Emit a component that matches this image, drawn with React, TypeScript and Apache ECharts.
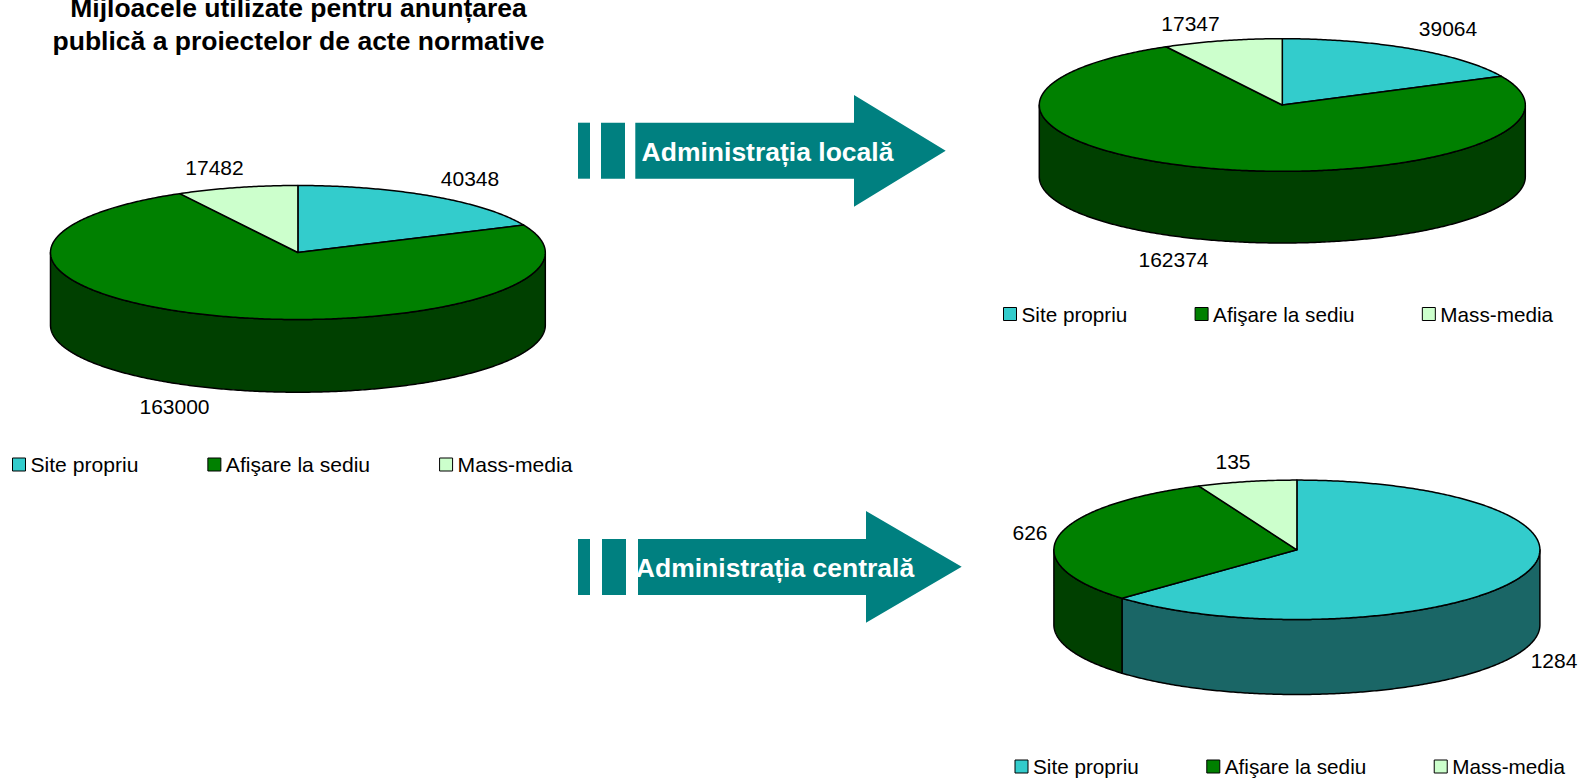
import React, { useEffect, useRef } from "react";
import * as echarts from "echarts";

const categories = ["Site propriu", "Afişare la sediu", "Mass-media"];
const totalValues = [40348, 163000, 17482];
const localValues = [39064, 162374, 17347];
const centralValues = [1284, 626, 135];
const allPies = [totalValues, localValues, centralValues];

const titleText = "Mijloacele utilizate pentru anunțarea\npublică a proiectelor de acte normative";
const arrowTexts = ["Administrația locală", "Administrația centrală"];

const topColors = ["#33CCCC", "#008000", "#CCFFCC"];
const wallColors = ["#1A6666", "#004000", "#668066"];
const FONT = '"Liberation Sans", Arial, sans-serif';
const TEAL = "#008080";

const geometry = [
  { cx: 297.9, cy: 252.5, rx: 247.4, ry: 67, depth: 72.7 },
  { cx: 1282.3, cy: 105, rx: 243, ry: 66.3, depth: 71.7 },
  { cx: 1296.9, cy: 549.8, rx: 243, ry: 69.7, depth: 75 },
];
const labelSpots = [
  [[470, 178], [174.5, 406], [214.5, 167.5]],
  [[1448, 28.5], [1173.5, 259.5], [1190.5, 23]],
  [[1554, 660], [1030, 532], [1233, 461.5]],
];
const legendSpots = [
  { left: 12, top: 454, gap: 69, size: 21.1 },
  { left: 1003, top: 303.5, gap: 67.3, size: 20.7 },
  { left: 1014.5, top: 756, gap: 67.5, size: 20.7 },
];
const arrowSpots = [
  { bars: [[578, 12], [601, 24]], y0: 122.7, y1: 178.7, bodyX: 635.3, neckX: 854, tipX: 945.7, top: 95, bottom: 206.7, textX: 767.5, textY: 152 },
  { bars: [[578, 12], [602, 24]], y0: 539, y1: 595, bodyX: 638, neckX: 866, tipX: 961.7, top: 511, bottom: 622.7, textX: 775, textY: 567.5 },
];

function sliceAngles(pieIdx: number, sliceIdx: number) {
  const vals = allPies[pieIdx];
  const total = vals.reduce((a, b) => a + b, 0);
  const before = vals.slice(0, sliceIdx).reduce((a, b) => a + b, 0);
  const a0 = (before / total) * Math.PI * 2;
  const a1 = ((before + vals[sliceIdx]) / total) * Math.PI * 2;
  return [a0, a1];
}

function ellipsePoint(g: any, a: number, dy = 0) {
  return [g.cx + g.rx * Math.sin(a), g.cy - g.ry * Math.cos(a) + dy];
}

function arcPoints(g: any, a0: number, a1: number, dy = 0) {
  const n = Math.max(2, Math.ceil((a1 - a0) / 0.01));
  const out: number[][] = [];
  for (let i = 0; i <= n; i++) out.push(ellipsePoint(g, a0 + ((a1 - a0) * i) / n, dy));
  return out;
}

function makeRenderItem(sliceIdx: number) {
  return (params: any, api: any) => {
    const pieIdx = params.dataIndex;
    const g = geometry[pieIdx];
    const [a0, a1] = sliceAngles(pieIdx, sliceIdx);
    const children: any[] = [];
    const lo = Math.max(a0, Math.PI / 2);
    const hi = Math.min(a1, (Math.PI * 3) / 2);
    if (hi > lo) {
      const upper = arcPoints(g, lo, hi);
      const lower = arcPoints(g, lo, hi, g.depth).reverse();
      children.push({
        type: "polygon",
        z2: 1,
        shape: { points: upper.concat(lower) },
        style: { fill: wallColors[sliceIdx], stroke: "#000", lineWidth: 1.5, lineJoin: "round" },
      });
    }
    children.push({
      type: "polygon",
      z2: 2,
      shape: { points: [[g.cx, g.cy]].concat(arcPoints(g, a0, a1)) },
      style: { fill: topColors[sliceIdx], stroke: "#000", lineWidth: 1.5, lineJoin: "round" },
    });
    const spot = labelSpots[pieIdx][sliceIdx];
    children.push({
      type: "text",
      z2: 3,
      style: {
        x: spot[0],
        y: spot[1],
        text: String(api.value(0)),
        fill: "#000",
        font: `21px ${FONT}`,
        textAlign: "center",
        textVerticalAlign: "middle",
      },
    });
    return { type: "group", children };
  };
}

function arrowGraphics(): any[] {
  const out: any[] = [];
  arrowSpots.forEach((a, i) => {
    a.bars.forEach(([x, w]) => {
      out.push({ type: "rect", shape: { x, y: a.y0, width: w, height: a.y1 - a.y0 }, style: { fill: TEAL } });
    });
    const mid = (a.top + a.bottom) / 2;
    out.push({
      type: "polygon",
      shape: {
        points: [
          [a.bodyX, a.y0],
          [a.neckX, a.y0],
          [a.neckX, a.top],
          [a.tipX, mid],
          [a.neckX, a.bottom],
          [a.neckX, a.y1],
          [a.bodyX, a.y1],
        ],
      },
      style: { fill: TEAL },
    });
    out.push({
      type: "text",
      z: 10,
      style: {
        x: a.textX,
        y: a.textY,
        text: arrowTexts[i],
        fill: "#fff",
        font: `bold 26.5px ${FONT}`,
        textAlign: "center",
        textVerticalAlign: "middle",
      },
    });
  });
  return out;
}

export default function App() {
  const ref = useRef<HTMLDivElement>(null);
  useEffect(() => {
    document.body.style.margin = "0";
    document.body.style.overflow = "hidden";
    const chart = echarts.init(ref.current!, undefined, { renderer: "svg" });
    chart.setOption({
      animation: false,
      backgroundColor: "#fff",
      title: {
        text: titleText,
        left: 298.5,
        top: -8,
        padding: 0,
        textAlign: "center",
        textStyle: { fontFamily: FONT, fontWeight: "bold", fontSize: 26.5, lineHeight: 32.4, color: "#000" },
      },
      legend: legendSpots.map((s) => ({
        left: s.left,
        top: s.top,
        orient: "horizontal",
        padding: 0,
        selectedMode: false,
        itemWidth: 13,
        itemHeight: 13,
        itemGap: s.gap,
        data: categories.map((name, i) => ({
          name,
          icon: "rect",
          itemStyle: { color: topColors[i], borderColor: "#000", borderWidth: 1 },
        })),
        textStyle: { fontFamily: FONT, fontSize: s.size, color: "#000", padding: [0, 0, 0, 0] },
      })),
      graphic: { elements: arrowGraphics() },
      series: categories.map((name, s) => ({
        type: "custom",
        name,
        coordinateSystem: "none",
        itemStyle: { color: topColors[s] },
        data: allPies.map((p) => [p[s]]),
        renderItem: makeRenderItem(s),
      })),
    });
    return () => chart.dispose();
  }, []);
  return <div ref={ref} style={{ width: 1581, height: 779 }} />;
}
